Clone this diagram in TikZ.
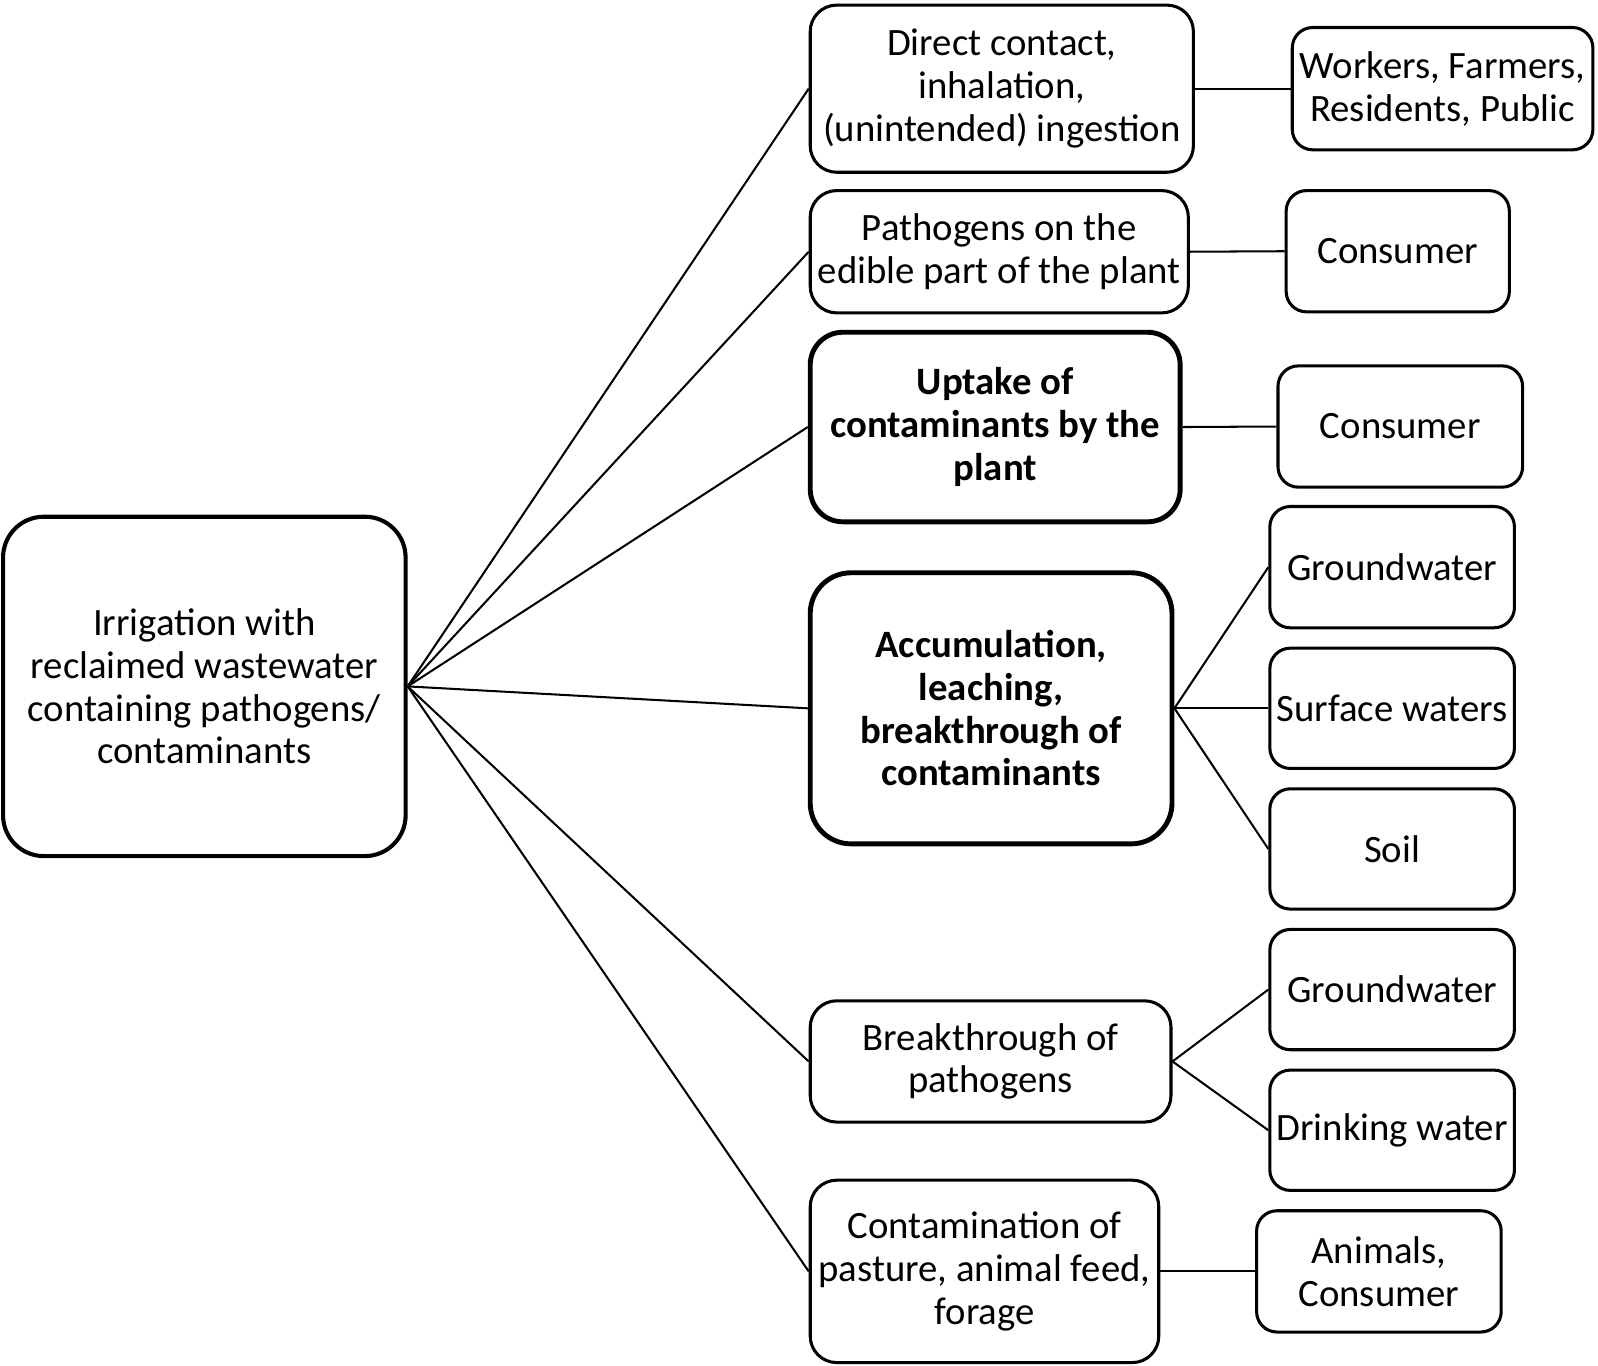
\documentclass[tikz,border=0pt]{standalone}
\usepackage{fontspec}
\setmainfont{Carlito}
\begin{document}
\begin{tikzpicture}[x=0.5pt,y=-0.5pt,
  every node/.style={font=\fontsize{19}{21}\selectfont, align=center, inner sep=0pt},
  box/.style={draw, line width=1.5pt, rounded corners=10pt},
  midbox/.style={draw, line width=1.5pt, rounded corners=13pt},
  thickbox/.style={draw, line width=2.4pt, rounded corners=16pt, font=\fontsize{19}{21}\selectfont\bfseries},
  rootbox/.style={draw, line width=2pt, rounded corners=20pt},
  link/.style={line width=1pt}]
\useasboundingbox (0,0) rectangle (1568,1340);
% root
\node[rootbox, minimum width=197.5pt, minimum height=166.5pt] (root) at (200.5,673.5)
  {Irrigation with\\reclaimed wastewater\\containing pathogens/\\contaminants};
% middle column
\node[midbox, minimum width=188pt, minimum height=82pt] (d1) at (983,87)
  {Direct contact,\\inhalation,\\(unintended) ingestion};
\node[midbox, minimum width=185.5pt, minimum height=60pt] (d2) at (980.5,247)
  {Pathogens on the\\edible part of the plant};
\node[thickbox, minimum width=181.5pt, minimum height=93pt] (d3) at (976.5,419)
  {Uptake of\\contaminants by the\\plant};
\node[thickbox, rounded corners=20pt, minimum width=177.5pt, minimum height=133pt] (d4) at (972.5,695)
  {Accumulation,\\leaching,\\breakthrough of\\contaminants};
\node[midbox, minimum width=177pt, minimum height=59.5pt] (d5) at (972,1041.5)
  {Breakthrough of\\pathogens};
\node[midbox, minimum width=171pt, minimum height=89.5pt] (d6) at (966,1247.5)
  {Contamination of\\pasture, animal feed,\\forage};
% right column
\node[box, minimum width=147.5pt, minimum height=60pt] (r1) at (1415.5,87)
  {Workers, Farmers,\\Residents, Public};
\node[box, minimum width=109.5pt, minimum height=59.5pt] (r2) at (1371.5,246.5) {Consumer};
\node[box, minimum width=120pt, minimum height=59.5pt] (r3) at (1374,418.5) {Consumer};
\node[box, minimum width=120pt, minimum height=59.5pt] (r4) at (1366,556.5) {Groundwater};
\node[box, minimum width=120pt, minimum height=59pt] (r5) at (1366,695) {Surface waters};
\node[box, minimum width=120pt, minimum height=59pt] (r6) at (1366,833) {Soil};
\node[box, minimum width=120pt, minimum height=59pt] (r7) at (1366,971) {Groundwater};
\node[box, minimum width=120pt, minimum height=59pt] (r8) at (1366,1109) {Drinking water};
\node[box, minimum width=120pt, minimum height=59.5pt] (r9) at (1353,1247.5) {Animals,\\Consumer};
% connectors
\foreach \m in {d1,d2,d3,d4,d5,d6}
  \draw[link] (root.east) -- (\m.west);
\draw[link] (d1.east) -- (r1.west);
\draw[link] (d2.east) -- (r2.west);
\draw[link] (d3.east) -- (r3.west);
\draw[link] (d4.east) -- (r4.west);
\draw[link] (d4.east) -- (r5.west);
\draw[link] (d4.east) -- (r6.west);
\draw[link] (d5.east) -- (r7.west);
\draw[link] (d5.east) -- (r8.west);
\draw[link] (d6.east) -- (r9.west);
\end{tikzpicture}
\end{document}
